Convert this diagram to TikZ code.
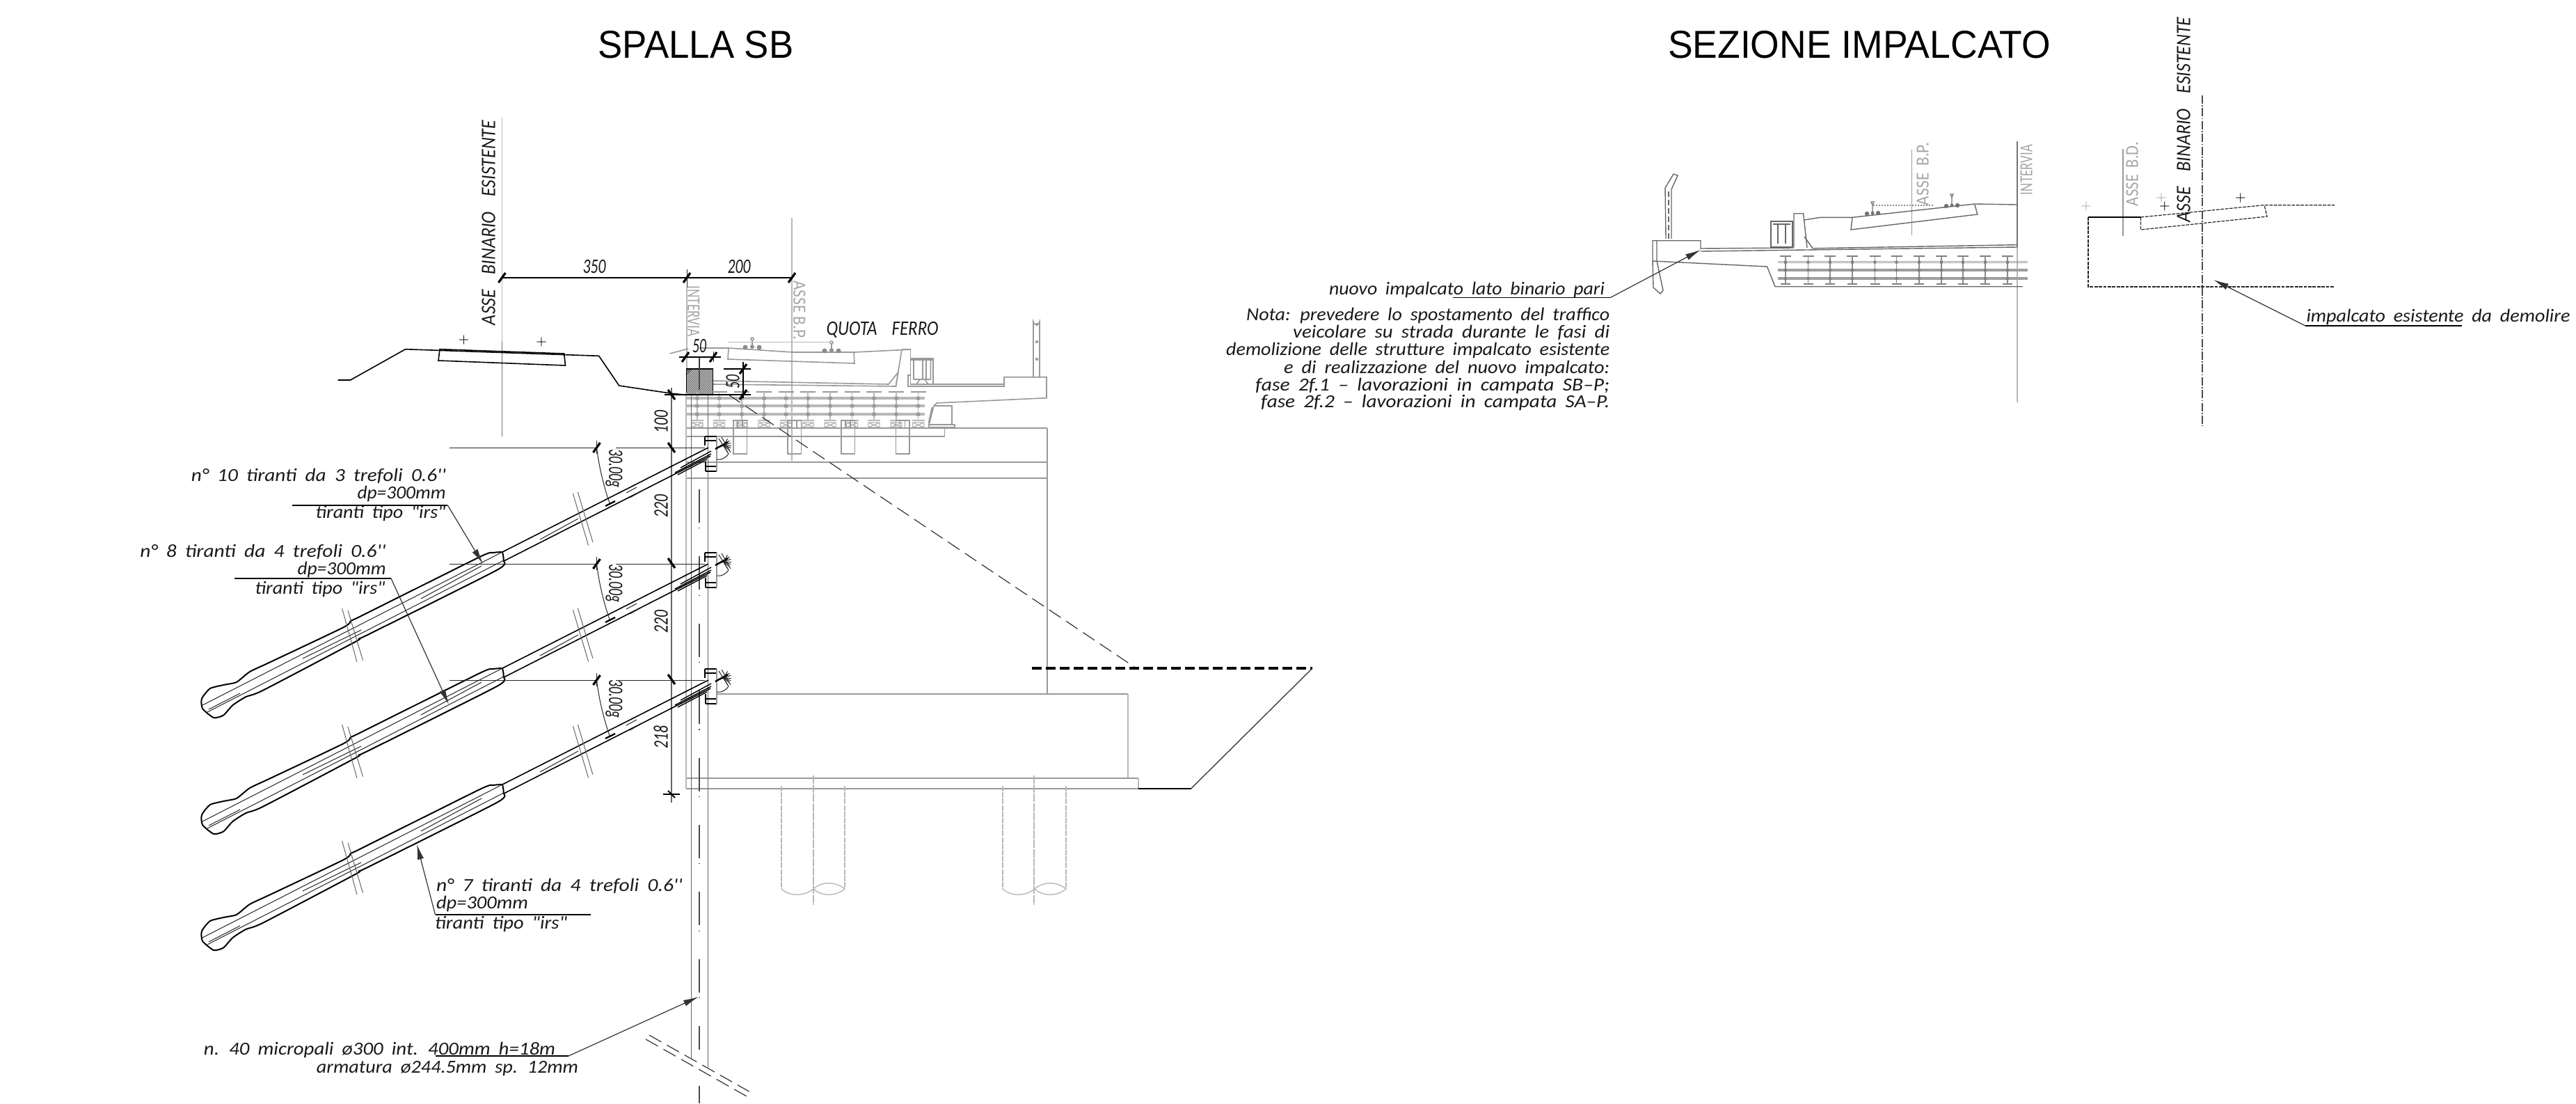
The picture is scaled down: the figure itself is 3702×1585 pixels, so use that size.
\documentclass[tikz,border=0pt]{standalone}
\usepackage{graphicx}
\usepackage{fontspec}
\usetikzlibrary{arrows.meta}
\newfontfamily\cadf{Carlito}
\newfontfamily\titf{Liberation Sans}
\newdimen\pxu \pxu=.25pt
\newcommand\FT[2]{\resizebox{#1\pxu}{\height}{\spaceskip=.42em\relax #2}}
\newcommand\FN[2]{\resizebox{#1\pxu}{\height}{#2}}
\newcommand\tkh[2]{\draw[tk] ({#1-5},{#2+7})--({#1+5},{#2-7});}
\newcommand\tkv[2]{\draw[tk] ({#1-5},{#2-7})--({#1+5},{#2+7});}
\tikzset{
 ln/.style={black,line width=.4pt},
 thn/.style={black!85,line width=.25pt},
 gd/.style={black!40,line width=.4pt},
 gl/.style={black!28,line width=.35pt},
 tk/.style={black,line width=.8pt},
 lead/.style={black!80,line width=.3pt,-{Latex[length=5.5pt,width=2.3pt]}},
 und/.style={black,line width=.35pt},
 captxt/.style={inner sep=0,anchor=mid,font=\cadf\itshape\fontsize{6.6pt}{7pt}\selectfont,text=black!90},
 dm/.style={inner sep=0,anchor=mid,font=\cadf\itshape\fontsize{7.4pt}{8pt}\selectfont,text=black!90},
 gt/.style={inner sep=0,anchor=mid,font=\cadf\fontsize{6.6pt}{7pt}\selectfont,text=black!35},
 ttl/.style={inner sep=0,anchor=mid,font=\titf\fontsize{14pt}{16pt}\selectfont,text=black},
 pls/.style={inner sep=0,font=\fontsize{4pt}{4pt}\selectfont},
 cdash/.style={black!70,line width=.3pt,dash pattern=on 12pt off 1.8pt on .3pt off 10pt},
 ddash/.style={black!80,line width=.3pt,dash pattern=on 5pt off 2.3pt},
 fdash/.style={black!85,line width=.3pt,dash pattern=on 1.2pt off .4pt},
 dk/.style={black!60,line width=.35pt},
 tiehead/.pic={
  \draw[ln,line width=.5pt] plot[smooth,tension=.35] coordinates {(722,793)(708.5,794)(689.5,800)(516,886.4)(505,891)(494,901)(388.7,951)(359,965)(340,980)(323.6,983.5)(302,989)(290,1003.6)(291,1018)(307,1031)(321,1027.6)(334.5,1013)(353.4,1001)(378,991.7)(510.6,922)(516,917.5)(532.3,910)(714,819)(723.6,805)(722,793)};
  \draw[thn] (291,1013)--(722,793) (296,1024)--(724,805);
  \draw[thn] (435,946)--(519,905) (605,860)--(692,813) (300,1019)--(345,996);
  \draw[ln,line width=.4pt] (722,793)--(1018,643) (724,806)--(1021,655);
  \draw[thn] (776,775)--(831,745) (900,708)--(915,700) (905,715)--(925,704);
  \draw[ln,line width=.35pt] (978,672)--(1022,648) (974,682)--(1016,660) (970,679)--(1022,652);
  \draw[thn,black!60] (491.6,874)--(513,951) (500,877)--(521.5,948.6) (823.4,709)--(845.6,783.5) (830.4,707)--(852,779);
  \draw[ln,line width=.55pt] (1013,627)--(1013,640) (1030,627)--(1030,640) (1013,633)--(1030,633) (1013,627)--(1030,627) (1014,663)--(1014,677) (1030,663)--(1030,677) (1014,670)--(1030,670) (1014,677)--(1030,677);
  \draw[gd] (1030,627)--(1030,677);
  \foreach \a in {-60,-40,-20,0,20,40,60,160}{\draw[thn] (1040,640)--++(\a:11);}
  \draw[ln,line width=.6pt] (1028,645)--(1046,635);
  \draw[thn] (1033,630)--(1047,652) (1037,628)--(1050,650) (1030,660)..controls (1038,661) and (1042,658)..(1047,652);
  \draw[thn] (646,643)--(857,643) (885,643)--(1013,643);
  \draw[thn] (857.5,633)--(857.5,652);
  \tkh{857.5}{643}
  \draw[thn] (857.5,643)..controls (861,672) and (868,700)..(876.5,724);
  \draw[black,line width=.6pt] (870,727)--(884,720);
 }
}
\begin{document}
\begin{tikzpicture}[x=.25pt,y=-.25pt]
\useasboundingbox (0,0) rectangle (3702,1585);
\fill[white] (0,0) rectangle (3702,1585);
% titles
\node[ttl] (titleA) at (1000,75) {\FN{281}{SPALLA SB}};
\node[ttl] (titleB) at (2672,75) {\FN{550}{SEZIONE IMPALCATO}};
% === left: structure (gray)
\draw[gl] (721.4,168)--(721.4,490);
\draw[black!55,line width=.4pt] (721.4,490)--(721.4,627);
\node[dm,rotate=90] (asseA) at (703,320) {\FT{294}{ASSE\ \ BINARIO\ \ ESISTENTE}};
\draw[gl] (987,413)--(987,530);
\draw[gl] (1138,313)--(1138,662);
\node[gt,rotate=-90] (intA) at (997,447) {\FN{73}{INTERVIA}};
\node[gt,rotate=-90] (bpA) at (1149,446) {\FN{85}{ASSE B.P.}};
% dims top
\draw[ln] (721.4,399)--(1138,399);
\draw[thn] (987,387)--(987,413);
\tkh{721.4}{399}\tkh{987}{399}\tkh{1138}{399}
\node[dm] (d350) at (854,384) {\FN{33}{350}};
\node[dm] (d200) at (1062,384) {\FN{33}{200}};
\node[pls] (pa) at (666.5,488) {+};
\node[pls] (pb) at (778,491) {+};
% track profile
\draw[ln] (485.7,546)--(503.6,546)--(582.6,501.7)--(860.7,511.3)--(889.7,554)--(963.4,565)--(985.7,567.3)--(1024.5,567.3);
\draw[ln] (630,518)--(632,501.7)--(810.7,508)--(812.5,525)--cycle;
% hatch block
\begin{scope}
\clip (986.6,530) rectangle (1024.5,567);
\fill[black!55] (986.6,530) rectangle (1024.5,567);
\foreach \k in {0,3,...,84}{\draw[black!25,line width=.25pt] ({960+\k},570)--({1000+\k},527);}
\end{scope}
\draw[ln] (986.6,530) rectangle (1024.5,567);
% deck left
\draw[gd] (962.5,508)--(989,501) (1005,500)--(1047,500)--(1139,506)--(1228,506)--(1308.5,502);
\draw[gd] (1047,500)--(1046,516)--(1228,522)--(1227,506);
\foreach \x/\y in {1081/500,1195/505}{
 \fill[black!45] (\x-10,\y-1) circle (3.5) (\x+10,\y-1) circle (3.5) (\x,\y-2) circle (3);
 \draw[gd] (\x,\y-2)--(\x,\y-12); \draw[gd] (\x,\y-13) circle (2);}
\draw[gl,line width=.25pt] (1046,491)--(1192,491);
\draw[gd] (1025,547)--(1277,552)--(1290.6,535)--(1287.5,555)--(1025,552);
\draw[gd] (1296,502)--(1287.5,555);
\draw[gd] (1308.5,502)--(1296,502);
\draw[gd] (1308.5,502)--(1308.5,539)--(1305,539)--(1305,555)--(1443,555);
\draw[gd] (1308.5,552)--(1443,552);
\draw[gd] (1308.5,515) rectangle (1341,552);
\draw[gd] (1308.5,517)--(1341,517) (1313,517)--(1313,545) (1326,517)--(1326,545) (1331,517)--(1331,545) (1337.5,517)--(1337.5,545) (1313,545)--(1337.5,545) (1317,552)--(1322,545) (1334,552)--(1329,545);
\draw[gd] (1443,556)--(1443,541.7)--(1504,541.7)--(1504,571.7)--(1346.4,579)--(1342,583)--(1335,610);
\draw[gd,line width=.7pt] (1340,585)--(1335,608);
\draw[gd] (1342,583)--(1368,583)--(1368,610);
\draw[gd] (1335,610) rectangle (1372,614);
\draw[gd] (1485,542)--(1485,462) arc[start angle=180,end angle=0,x radius=4.5,y radius=4.5]--(1494,542);
\foreach \y in {466,491,516}{\draw[gd] (1490,\y) circle (1.5);}
% beams left
\foreach \y in {572,583,595}{\draw[gl] (987,\y-1)--(1328.6,\y-1) (987,\y+1)--(1328.6,\y+1);}
\foreach \x in {1001.8,1033.5,1066,1098,1129.5,1161,1193,1224.5,1256,1288,1319.7}{
 \draw[gd,line width=.6pt] (\x-11,563)--(\x+11,563);
 \draw[gl] (\x,563)--(\x,604);
 \fill[black!40] (\x-2.5,569.5) rectangle (\x+2.5,574.5) (\x-2.5,580.5) rectangle (\x+2.5,585.5) (\x-2.5,592.5) rectangle (\x+2.5,597.5);
 \draw[gl] (\x-9,604)--(\x+9,604);
 \draw[gl] (\x-8,607) rectangle (\x+8,614) (\x-8,607)--(\x+8,614) (\x-8,614)--(\x+8,607);
}
\draw[gd] (986,615)--(1505,615) (986,627)--(1357.6,627)--(1357.6,615);
\foreach \x in {1054,1132,1209,1287.5}{\draw[gd] (\x,604) rectangle (\x+19.5,652);\draw[gd] (\x+6,604)--(\x+6,615) (\x+13,604)--(\x+13,615);}
\draw[gd] (986,664)--(1505,664) (986,687)--(1505,687);
\draw[gd] (1505,615)--(1505,997);
\draw[gd] (1030,997)--(1621,997);
\draw[gl] (1621,997)--(1621,1118);
\draw[gd] (986,1118)--(1636,1118);
\draw[gl] (1636,1118)--(1636,1133);
\draw[gd] (986,1133)--(1636,1133);
\draw[gl] (986,564)--(986,1133);
\foreach \x in {1123,1214,1441,1532}{\draw[gl,dash pattern=on 2pt off .3pt] (\x,1129)--(\x,1277);}
\foreach \x in {1169,1486}{\draw[gl,dash pattern=on 3pt off .3pt] (\x,1114)--(\x,1299);}
\foreach \x in {1123,1441}{
 \draw[gl] (\x,1277)..controls (\x+12,1288) and (\x+32,1288)..(\x+46,1277);
 \draw[gl] (\x+46,1277)..controls (\x+58,1266) and (\x+78,1266)..(\x+91,1277);
 \draw[gl] (\x+46,1277)..controls (\x+58,1288) and (\x+78,1288)..(\x+91,1277);}
% demolition profile
\coordinate (dA) at (1047,567);\coordinate (dB) at (1633,960);
\draw[ddash] (dA)--(dB);
\draw[black,line width=.8pt,dash pattern=on 3.5pt off 1.5pt] (1483,960)--(1886,960);
\draw[ln] (1636,1133)--(1711.5,1133);
\draw[black!75,line width=.35pt] (1711.5,1133)--(1886,960);
% micropile
\draw[black!60,line width=.45pt] (993.5,567)--(993.5,1520);
\draw[black!60,line width=.45pt] (1017.5,567)--(1017.5,1533);
\draw[black!70,line width=.3pt] (1005,513)--(1005,560);
\draw[cdash] (1005,703)--(1005,1508);
\draw[cdash] (1005,1560)--(1005,1585);
\draw[ddash] (933,1487)--(1076.6,1568);
\draw[ddash] (928,1493)--(1076.6,1577);
% vertical dims
\draw[black!60,line width=.4pt] (965,557)--(965,1153);
\tkv{965}{567}\tkv{965}{643}\tkv{965}{809}\tkv{965}{976}
\draw[ln] (955,567)--(1040,567);
\draw[ln] (953,1141)--(977,1141);\draw[tk,line width=.5pt] (960,1136)--(970,1146);
\node[dm,rotate=90] (d100) at (951,606) {\FN{33}{100}};
\node[dm,rotate=90] (d220a) at (951,727) {\FN{33}{220}};
\node[dm,rotate=90] (d220b) at (951,893) {\FN{33}{220}};
\node[dm,rotate=90] (d218) at (951,1059) {\FN{33}{218}};
% dim 50
\draw[ln] (976,513)--(1036,513);
\draw[thn] (1005,513)--(1005,530) (1025,505)--(1025,520);
\tkh{985}{513}\tkh{1025}{513}
\node[dm] (d50a) at (1005,498) {\FN{20}{50}};
\draw[ln] (1040,530)--(1079,530) (1068,520)--(1068,572) (1040,567)--(1079,567);
\tkh{1068}{530}\tkh{1068}{567}
\node[dm,rotate=90] (d50b) at (1054,548) {\FN{20}{50}};
% ties
\pic at (0,0) {tiehead};
\pic at (0,167) {tiehead};
\pic at (0,334) {tiehead};
\node[dm,rotate=-90] (g1) at (884,673) {\FN{55}{30.00g}};
\node[dm,rotate=-90] (g2) at (884,838) {\FN{55}{30.00g}};
\node[dm,rotate=-90] (g3) at (884,1004) {\FN{55}{30.00g}};
% labels
\node[captxt] (l1a) at (458,683) {\FT{366}{n° 10 tiranti da 3 trefoli 0.6''}};
\node[captxt] (l1b) at (577,708) {\FT{127}{dp=300mm}};
\node[captxt] (l1c) at (547,736) {\FT{187}{tiranti tipo "irs"}};
\coordinate (u1a) at (420,726);\coordinate (u1b) at (643.4,726);\coordinate (t1) at (694,810);
\draw[und] (u1a)--(u1b);\draw[lead] (u1b)--(t1);
\node[captxt] (l2a) at (378,792) {\FT{353}{n° 8 tiranti da 4 trefoli 0.6''}};
\node[captxt] (l2b) at (491,817) {\FT{127}{dp=300mm}};
\node[captxt] (l2c) at (460,845) {\FT{187}{tiranti tipo "irs"}};
\coordinate (u2a) at (337,831);\coordinate (u2b) at (562,831);\coordinate (t2) at (645,1012);
\draw[und] (u2a)--(u2b);\draw[lead] (u2b)--(t2);
\node[captxt] (l3a) at (804,1272) {\FT{354}{n° 7 tiranti da 4 trefoli 0.6''}};
\node[captxt] (l3b) at (693,1297) {\FT{132}{dp=300mm}};
\node[captxt] (l3c) at (720,1326) {\FT{190}{tiranti tipo "irs"}};
\coordinate (u3a) at (625.5,1314);\coordinate (u3b) at (849.4,1314);\coordinate (t3) at (599,1212.7);
\draw[und] (u3a)--(u3b);\draw[lead] (u3a)--(t3);
\node[captxt] (l4a) at (545.5,1507) {\FT{505}{n. 40 micropali ø300 int. 400mm h=18m}};
\node[captxt] (l4b) at (643,1533) {\FT{376}{armatura ø244.5mm sp. 12mm}};
\coordinate (u4a) at (626,1517);\coordinate (u4b) at (817,1517);\coordinate (t4) at (1004,1432);
\draw[und] (u4a)--(u4b);\draw[lead] (u4b)--(t4);
\node[dm] (qf) at (1268,473) {\FT{161}{QUOTA\ \ FERRO}};
% === middle: deck section
\draw[gl,line width=.3pt] (2899,355)--(2899,578);
\draw[black!55,line width=.7pt] (2899,203)--(2899,355);
\node[gt,rotate=90] (intB) at (2912,244) {\FN{72}{INTERVIA}};
\draw[gd] (2747.6,215)--(2747.6,338);
\node[gt,rotate=90] (bpB) at (2763,250) {\FT{90}{ASSE B.P.}};
\draw[dk] (2394,343)--(2393,270)--(2405,250)--(2411,252)--(2402,272)--(2402,343);
\draw[dk,line width=.3pt,dash pattern=on 2pt off 1pt] (2398,275)--(2398,343);
\draw[dk] (2444,358)--(2444,345.7)--(2375,345.7)--(2375,375)--(2376,413)--(2386,422)--(2390,417)--(2381,375)--(2381,345.7);
\draw[dk] (2375,375)--(2539.5,383)--(2551,411.7)--(2906.8,411.7);
\draw[dk] (2444,357)--(2578,356);
\draw[dk] (2444,361)--(2899,355) ;
\draw[dk] (2612,356.7)--(2899,351.7);
\draw[dk] (2593,340)--(2605,356.7)--(2612,356.7);
\draw[dk] (2578,355)--(2578,306.7)--(2591.6,306.7)--(2597,356);
\draw[dk] (2545,318) rectangle (2576,355);
\draw[dk,line width=.3pt] (2555,322)--(2555,350) (2566,322)--(2566,350) (2548,322)--(2573,322);
\draw[dk] (2593,316)--(2616,312.3)--(2662,312.3)--(2838,293)--(2899,294);
\draw[dk] (2662,312)--(2660,330)--(2841.7,308)--(2838,294);
\foreach \x/\y in {2691/307,2805/296}{
 \fill[black!55] (\x-8,\y) circle (3.2) (\x+8,\y-1) circle (3.2) (\x,\y-1) circle (2.5);
 \draw[black!55,line width=.3pt] (\x,\y)--(\x,\y-14) (\x-2,\y-17)--(\x+2,\y-17)--(\x,\y-12)--cycle;}
\draw[black!45,line width=.3pt,dash pattern=on .6pt off .4pt] (2692,295)--(2780,295);
\foreach \y in {376.7,388,400}{\draw[black!38,line width=.35pt] (2555,\y-1)--(2914,\y-1) (2555,\y+1)--(2914,\y+1);}
\foreach \x in {2566,2598.5,2630,2662,2694.5,2725.5,2758,2790,2821,2853,2885}{
 \draw[black!50,line width=.6pt] (\x-8,368)--(\x+8,368);
 \draw[black!45,line width=.35pt] (\x,368)--(\x,409);
 \fill[black!50] (\x-1.8,374.7) rectangle (\x+1.8,378.7) (\x-1.8,386) rectangle (\x+1.8,390) (\x-1.8,398) rectangle (\x+1.8,402);
 \draw[black!50,line width=.6pt] (\x-7,408)--(\x+7,408);
}
\node[captxt] (nv) at (2108,415) {\FT{396}{nuovo impalcato lato binario pari}};
\coordinate (u5a) at (2088,427.7);\coordinate (u5b) at (2314,427.7);\coordinate (t5) at (2444,359);
\draw[und] (u5a)--(u5b);\draw[lead] (u5b)--(t5);
\node[captxt,anchor=mid east] (n1) at (2314,452) {\FT{522}{Nota: prevedere lo spostamento del traffico}};
\node[captxt,anchor=mid east] (n2) at (2314,477) {\FT{455}{veicolare su strada durante le fasi di}};
\node[captxt,anchor=mid east] (n3) at (2314,502) {\FT{551}{demolizione delle strutture impalcato esistente}};
\node[captxt,anchor=mid east] (n4) at (2314,528) {\FT{468}{e di realizzazione del nuovo impalcato:}};
\node[captxt,anchor=mid east] (n5) at (2314,553) {\FT{509}{fase 2f.1 – lavorazioni in campata SB–P;}};
\node[captxt,anchor=mid east] (n6) at (2314,577) {\FT{501}{fase 2f.2 – lavorazioni in campata SA–P.}};
% === right
\draw[black!70,line width=.3pt,dash pattern=on 3pt off .6pt on .4pt off .6pt] (3165,137)--(3165,612);
\node[dm,rotate=90] (asseB) at (3139,172) {\FT{295}{ASSE\ \ BINARIO\ \ ESISTENTE}};
\draw[gd] (3051,214)--(3051,339);
\node[gt,rotate=90] (bdB) at (3064,250) {\FT{92}{ASSE B.D.}};
\draw[ln] (3076.5,312)--(3001,312);
\draw[fdash] (3001,312)--(3001,412)--(3355,412);
\draw[fdash] (3076.5,312)--(3253,294.7)--(3355,294.7);
\draw[fdash] (3076.5,312)--(3076.5,330)--(3258,311)--(3254,294.7);
\node[pls] (pc) at (3110.7,296) {+};
\node[pls] (pd) at (3219.7,284.5) {+};
\node[pls,text=black!35] (pe) at (3106,284.5) {+};
\node[pls,text=black!35] (pf) at (2998,296) {+};
\node[captxt] (nd) at (3504,454) {\FT{379}{impalcato esistente da demolire}};
\coordinate (u6a) at (3313,468);\coordinate (u6b) at (3538,468);\coordinate (t6) at (3181,402);
\draw[und] (u6a)--(u6b);\draw[lead] (u6a)--(t6);
\end{tikzpicture}
\end{document}
